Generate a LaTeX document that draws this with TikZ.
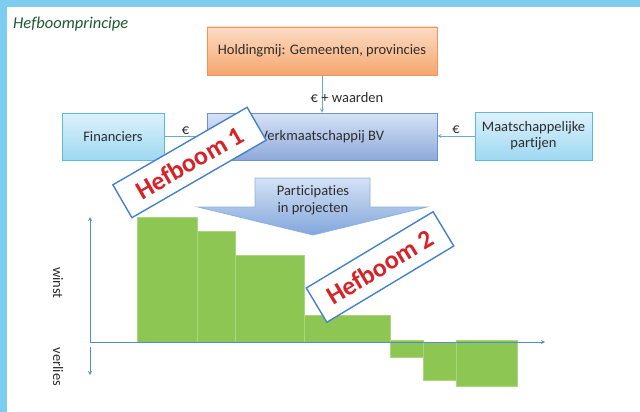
\documentclass[tikz,border=0pt]{standalone}
\usepackage{fontspec}
\setmainfont{Carlito}[Ligatures=NoCommon]
\usetikzlibrary{positioning}
\tikzset{>=stealth}

\definecolor{frameblue}{RGB}{125,205,241}
\definecolor{titlegreen}{RGB}{30,90,50}
\definecolor{boxtext}{RGB}{45,45,45}
\definecolor{holdingtop}{RGB}{252,220,196}
\definecolor{holdingbot}{RGB}{245,166,110}
\definecolor{holdingline}{RGB}{238,150,95}
\definecolor{verktop}{RGB}{214,226,245}
\definecolor{verkbot}{RGB}{142,169,219}
\definecolor{verkline}{RGB}{111,143,207}
\definecolor{sidetop}{RGB}{221,242,251}
\definecolor{sidebot}{RGB}{158,216,242}
\definecolor{sideline}{RGB}{95,184,222}
\definecolor{connline}{RGB}{106,168,218}
\definecolor{leverline}{RGB}{70,130,200}
\definecolor{leverred}{RGB}{215,35,40}
\definecolor{arrowtop}{RGB}{212,226,245}
\definecolor{arrowbot}{RGB}{130,166,220}
\definecolor{arrowline}{RGB}{140,178,226}
\definecolor{axisline}{RGB}{80,140,210}
\definecolor{barfill}{RGB}{141,198,82}
\definecolor{barline}{RGB}{170,215,125}

\tikzset{
  box/.style={draw, line width=0.8pt, minimum height=47pt, inner sep=2pt,
    text=boxtext, align=center, font=\fontsize{14.5}{16}\selectfont},
  holdingbox/.style={box, draw=holdingline, top color=holdingtop, bottom color=holdingbot},
  verkbox/.style={box, draw=verkline, top color=verktop, bottom color=verkbot},
  sidebox/.style={box, draw=sideline, top color=sidetop, bottom color=sidebot},
  conn/.style={draw=connline, line width=0.8pt, ->},
  euro/.style={text=boxtext, font=\fontsize{14.5}{16}\selectfont, inner sep=1pt},
  lever/.style={draw=leverline, line width=1.4pt, fill=white, minimum width=155pt,
    minimum height=38pt, text=leverred, font=\fontsize{26}{26}\bfseries\selectfont},
  axis/.style={draw=axisline, line width=0.8pt, ->},
  bar/.style={fill=barfill, draw=barline, line width=0.6pt},
}

\begin{document}
\begin{tikzpicture}[x=1pt,y=-1pt]
\useasboundingbox (0,0) rectangle (640,412);
\fill[white] (0,0) rectangle (640,412);
\fill[frameblue] (0,0) rectangle (640,7);
\fill[frameblue] (0,0) rectangle (7,412);

\node[anchor=base west, inner sep=0, text=titlegreen,
  font=\fontsize{16.5}{16}\itshape\selectfont] (title) at (13,29) {Hefboomprincipe};

% boxes
\node[holdingbox, minimum width=230pt, minimum height=48pt] (holding) at (322,51) {Holdingmij: Gemeenten, provincies};
\node[verkbox, minimum width=230pt] (verk) at (322,136.5) {Verkmaatschappij BV};
\node[sidebox, minimum width=102pt] (fin) at (113,136.5) {Financiers};
\node[sidebox, minimum width=117pt, minimum height=48pt] (maat) at (533.5,136) {Maatschappelijke\\partijen};

\draw[conn] (holding) -- (verk) node[euro, pos=.6, xshift=25pt] {\texteuro{} + waarden};
\draw[conn] (fin) -- (verk) node[euro, midway, above, yshift=1pt] {\texteuro};
\draw[conn] (maat.west) -- (verk.east |- maat.west) node[euro, midway, above, yshift=1pt] {\texteuro};

% participaties
\path[draw=arrowline, line width=0.8pt, top color=arrowtop, bottom color=arrowbot]
  (255,178) -- (370,178) -- (370,207) -- (427,207) -- (313,235) -- (198,207) -- (255,207) -- cycle;
\node[align=center, text=boxtext, font=\fontsize{14.5}{17}\selectfont] (particip) at (313,200) {Participaties\\in projecten};

% chart
\foreach \xa/\xb/\ya/\yb in {137/197/217/342, 197/235/231/342, 235/304/255/342, 304/390/315/342,
  390/423/340/357, 423/456/342/380, 456/517/340/386}
  \draw[bar] (\xa,\ya) rectangle (\xb,\yb);

\coordinate (origin) at (90,342);
\coordinate (ytop) at (90,217);
\coordinate (xend) at (545,342);
\coordinate (ydown) at (90,347);
\coordinate (ybot) at (90,375);
\draw[axis] (origin) -- (ytop);
\draw[axis] (origin) -- (xend);
\draw[axis] (ydown) -- (ybot);

\node[rotate=-90, text=boxtext, font=\fontsize{14.5}{16}\selectfont] (winst) at (58,283) {winst};
\node[rotate=-90, text=boxtext, font=\fontsize{14.5}{16}\selectfont] (verlies) at (58,367) {verlies};

% hefbomen
\node[lever, rotate=30] (lever1) at (189.5,162.5) {Hefboom 1};
\node[lever, rotate=31, minimum width=148pt, minimum height=40pt] (lever2) at (380,267) {Hefboom 2};

\end{tikzpicture}
\end{document}
